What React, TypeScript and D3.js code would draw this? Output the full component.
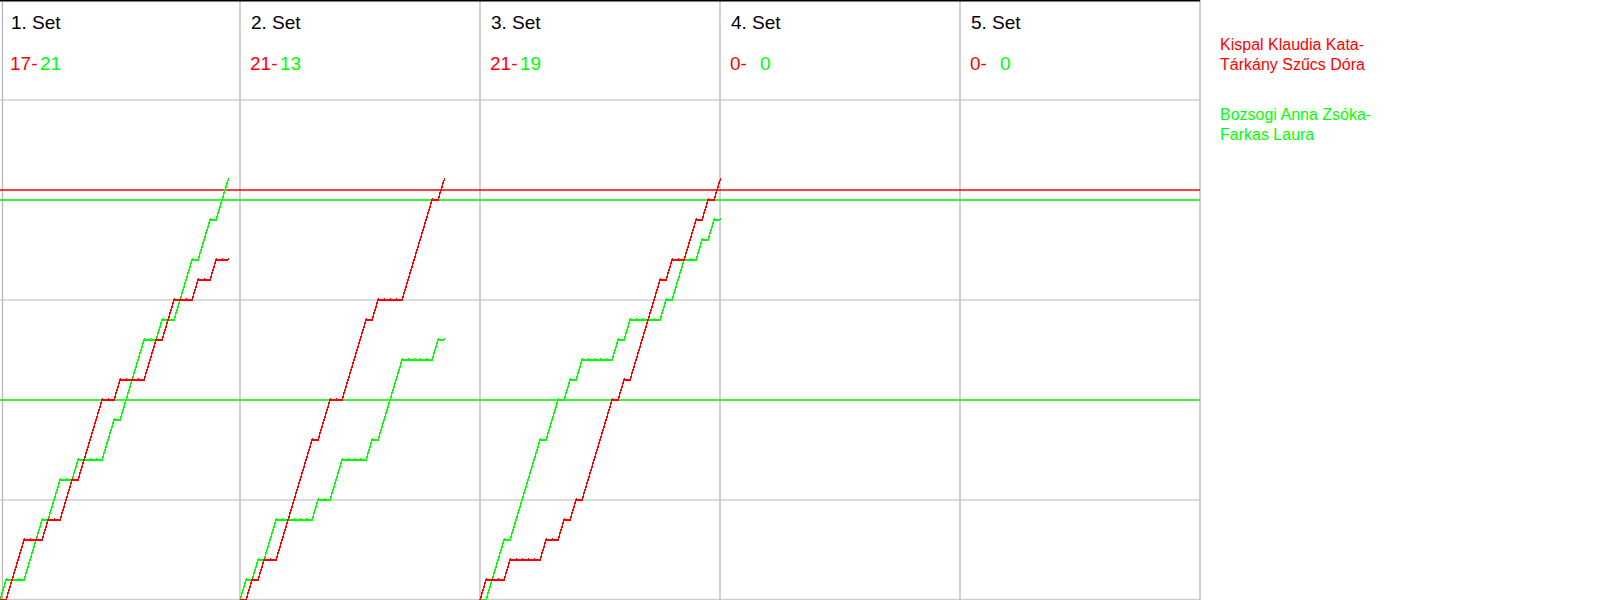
import React from "react";
import * as d3 from "d3";

// ---- data ----
const setLabels = ["1. Set", "2. Set", "3. Set", "4. Set", "5. Set"];
const redFinal = [17, 21, 21, 0, 0];
const greenFinal = [21, 13, 19, 0, 0];

const redTeam = ["Kispal Klaudia Kata-", "Tárkány Szűcs Dóra"];
const greenTeam = ["Bozsogi Anna Zsóka-", "Farkas Laura"];

// running score after each rally (index = rally number)
const set1Red = [0,0,1,2,3,3,3,3,4,4,4,5,6,6,7,8,9,10,10,10,11,11,11,11,11,12,13,13,14,15,15,15,15,16,16,16,17,17,17];
const set1Green = [0,1,1,1,1,2,3,4,4,5,6,6,6,7,7,7,7,7,8,9,9,10,11,12,13,13,13,14,14,14,15,16,17,17,18,19,19,20,21];
const set2Red = [0,0,1,1,2,2,2,3,4,5,6,7,8,8,9,10,10,10,11,12,13,14,14,15,15,15,15,15,16,17,18,19,20,20,21];
const set2Green = [0,1,1,2,2,3,4,4,4,4,4,4,4,5,5,5,6,7,7,7,7,7,8,8,9,10,11,12,12,12,12,12,12,13,13];
const set3Red = [0,1,1,1,1,2,2,2,2,2,2,3,3,3,4,4,5,5,6,7,8,9,10,10,11,11,12,13,14,15,16,16,17,17,17,18,19,19,20,20,21];
const set3Green = [0,0,1,2,3,3,4,5,6,7,8,8,9,10,10,11,11,12,12,12,12,12,12,13,13,14,14,14,14,14,14,15,15,16,17,17,17,18,18,19,19];

const redSeries = [set1Red, set2Red, set3Red, [], []];
const greenSeries = [set1Green, set2Green, set3Green, [], []];

const gridScores = [0, 5, 10, 15, 20, 25];
const redRefLines = [20.5];
const greenRefLines = [10, 20];

// ---- layout ----
const W = 1600;
const H = 600;
const PANEL_W = 240;
const NPANELS = 5;
const PLOT_RIGHT = PANEL_W * NPANELS;
const RED = "#ff0000";
const GREEN = "#00ff00";
const FONT = "'Liberation Sans', Arial, Helvetica, sans-serif";

const y = d3.scaleLinear().domain([0, 30]).range([H, 0]);
const xLocal = d3.scaleLinear().domain([0, 40]).range([0, PANEL_W]);
const panelX = d3.scaleLinear().domain([0, NPANELS]).range([0, PLOT_RIGHT]);

function Series({ data, x0, color }: { data: number[]; x0: number; color: string }) {
  if (!data.length) return null;
  const line = d3
    .line<number>()
    .x((_, i) => x0 + xLocal(i))
    .y((d) => y(d));
  return (
    <g>
      <path d={line(data) || ""} fill="none" stroke={color} strokeWidth={1.5} shapeRendering="crispEdges" />
      {data.map((d, i) =>
        i === 0 ? null : (
          <rect
            key={i}
            x={Math.round(x0 + xLocal(i)) - 0.5}
            y={Math.round(y(d)) - 2.5}
            width={1.2}
            height={2.5}
            fill={color}
            shapeRendering="crispEdges"
          />
        )
      )}
    </g>
  );
}

export default function App() {
  return (
    <svg
      width={W}
      height={H}
      style={{ position: "absolute", left: 0, top: 0, background: "#fff" }}
      fontFamily={FONT}
    >
      <rect x={0} y={0} width={W} height={H} fill="#fff" />
      {/* horizontal grid */}
      {gridScores.map((s) => (
        <line
          key={"h" + s}
          x1={0}
          x2={PLOT_RIGHT}
          y1={s === 0 ? y(s) - 0.5 : y(s)}
          y2={s === 0 ? y(s) - 0.5 : y(s)}
          stroke="#cfcfcf"
          strokeWidth={1.3}
        />
      ))}
      {/* vertical panel borders */}
      <line x1={2.5} x2={2.5} y1={0} y2={H} stroke="#b8b8b8" strokeWidth={1.3} />
      {d3.range(1, NPANELS + 1).map((i) => (
        <line key={"v" + i} x1={panelX(i)} x2={panelX(i)} y1={0} y2={H} stroke="#b8b8b8" strokeWidth={1.3} />
      ))}
      {/* top border */}
      <line x1={0} x2={PLOT_RIGHT} y1={0.75} y2={0.75} stroke="#000" strokeWidth={1.5} />

      {/* reference lines */}
      {redRefLines.map((s) => (
        <line key={"r" + s} x1={0} x2={PLOT_RIGHT} y1={y(s)} y2={y(s)} stroke={RED} strokeWidth={1.4} />
      ))}
      {greenRefLines.map((s) => (
        <line key={"g" + s} x1={0} x2={PLOT_RIGHT} y1={y(s)} y2={y(s)} stroke={GREEN} strokeWidth={1.4} />
      ))}

      {/* panels */}
      {setLabels.map((label, i) => {
        const x0 = panelX(i);
        return (
          <g key={label}>
            <text x={x0 + 11} y={29} fontSize={19} fill="#000">
              {label}
            </text>
            <text x={x0 + 10} y={70} fontSize={19} fill={RED}>
              {redFinal[i] + "-"}
            </text>
            <text x={x0 + 40} y={70} fontSize={19} fill={GREEN}>
              {String(greenFinal[i])}
            </text>
            <Series data={greenSeries[i]} x0={x0} color={GREEN} />
            <Series data={redSeries[i]} x0={x0} color={RED} />
          </g>
        );
      })}

      {/* legend */}
      {redTeam.map((t, i) => (
        <text key={"rt" + i} x={1220} y={50 + i * 20} fontSize={16} fill={RED}>
          {t}
        </text>
      ))}
      {greenTeam.map((t, i) => (
        <text key={"gt" + i} x={1220} y={120 + i * 20} fontSize={16} fill={GREEN}>
          {t}
        </text>
      ))}
    </svg>
  );
}
